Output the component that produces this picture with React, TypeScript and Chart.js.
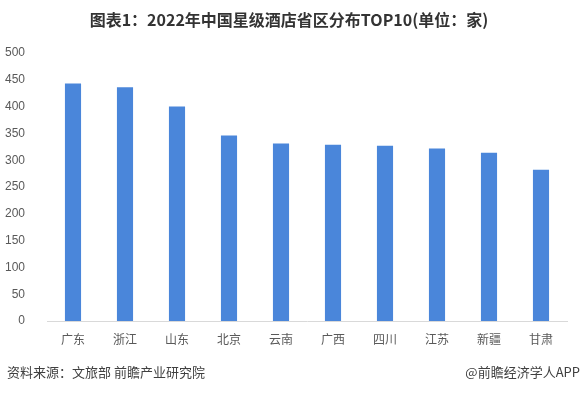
import React, { useEffect, useRef } from "react";
import { Chart, registerables } from "chart.js";

Chart.register(...registerables);

const categories = ["广东", "浙江", "山东", "北京", "云南", "广西", "四川", "江苏", "新疆", "甘肃"];
const hotelCounts = [443, 436, 400, 346, 331, 329, 327, 322, 314, 282];
const titleText = "图表1：2022年中国星级酒店省区分布TOP10(单位：家)";
const sourceText = "资料来源：文旅部 前瞻产业研究院";
const brandText = "@前瞻经济学人APP";

const CJK = '"Noto Sans CJK SC", "Liberation Sans", sans-serif';

const textPlugin = {
  id: "textPlugin",
  afterDraw(chart: any) {
    const ctx = chart.ctx;
    ctx.save();
    ctx.fillStyle = "#333333";
    ctx.font = `bold 16px ${CJK}`;
    ctx.textAlign = "center";
    ctx.textBaseline = "middle";
    ctx.fillText(titleText, 289, 20);
    ctx.font = `13px ${CJK}`;
    ctx.fillStyle = "#404040";
    ctx.textAlign = "left";
    ctx.fillText(sourceText, 7, 372);
    ctx.textAlign = "right";
    ctx.fillText(brandText, 580, 372);
    ctx.restore();
  },
};

export default function App() {
  const ref = useRef<HTMLCanvasElement>(null);
  useEffect(() => {
    const chart = new Chart(ref.current!, {
      type: "bar",
      data: {
        labels: categories,
        datasets: [
          {
            data: hotelCounts,
            backgroundColor: "#4a86da",
            barPercentage: 0.31,
            categoryPercentage: 1,
          },
        ],
      },
      options: {
        animation: false,
        responsive: true,
        maintainAspectRatio: false,
        layout: { padding: { top: 53, right: 14, bottom: 44, left: 0 } },
        plugins: { legend: { display: false }, title: { display: false }, tooltip: { enabled: false } },
        scales: {
          x: {
            grid: { display: false },
            border: { display: true, color: "#d9d9d9", width: 1 },
            ticks: { color: "#595959", font: { size: 12, family: CJK }, padding: 3, maxRotation: 0 },
            afterFit: (s: any) => {
              s.height = 30;
            },
          },
          y: {
            min: 0,
            max: 500,
            grid: { display: false },
            border: { display: false },
            ticks: { stepSize: 50, color: "#595959", font: { size: 12, family: '"Liberation Sans", sans-serif' }, padding: 14 },
            afterFit: (s: any) => {
              s.width = 47;
            },
          },
        },
      },
      plugins: [textPlugin],
    });
    return () => chart.destroy();
  }, []);
  return (
    <div style={{ position: "absolute", left: 0, top: 0, width: 581, height: 395, background: "#fff" }}>
      <canvas ref={ref} />
    </div>
  );
}
